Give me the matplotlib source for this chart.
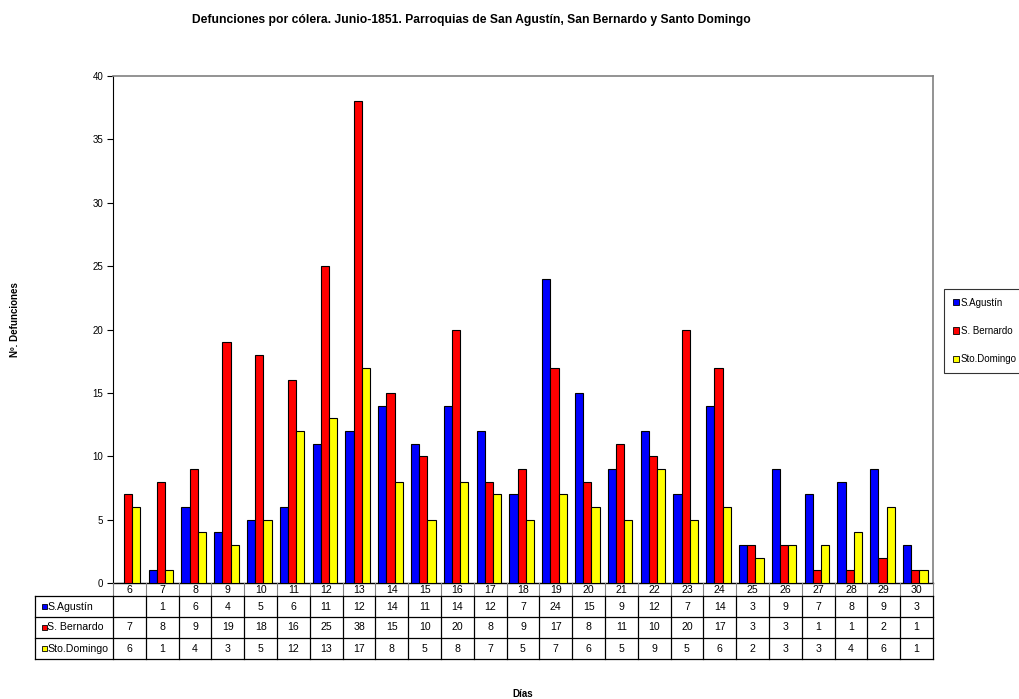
import matplotlib
matplotlib.use("Agg")
import matplotlib.pyplot as plt
import numpy as np
from matplotlib.patches import Rectangle
from matplotlib.lines import Line2D
from matplotlib.transforms import blended_transform_factory

plt.rcParams['font.family'] = ['Liberation Sans', 'DejaVu Sans']

# Defunciones diarias por parroquia, junio de 1851
dias = list(range(6, 31))
san_agustin = [None, 1, 6, 4, 5, 6, 11, 12, 14, 11, 14, 12, 7, 24, 15, 9, 12, 7, 14, 3, 9, 7, 8, 9, 3]
san_bernardo = [7, 8, 9, 19, 18, 16, 25, 38, 15, 10, 20, 8, 9, 17, 8, 11, 10, 20, 17, 3, 3, 1, 1, 2, 1]
sto_domingo = [6, 1, 4, 3, 5, 12, 13, 17, 8, 5, 8, 7, 5, 7, 6, 5, 9, 5, 6, 2, 3, 3, 4, 6, 1]
parroquias = ["S.Agustín", "S. Bernardo", "Sto.Domingo"]
colores = ["#0000FF", "#FF0000", "#FFFF00"]
valores = [san_agustin, san_bernardo, sto_domingo]

W, H = 1019, 699
fig = plt.figure(figsize=(W / 100, H / 100), dpi=100)
ax = fig.add_axes([113 / W, 1 - 583 / H, 820 / W, 507 / H])

x = np.arange(len(dias))
ancho = 0.25
for i, (serie, color) in enumerate(zip(valores, colores)):
    alturas = [v if v is not None else 0 for v in serie]
    ax.bar(x + (i - 1) * ancho - 0.04, alturas, width=ancho, color=color,
           edgecolor='black', linewidth=0.8, zorder=3)

ax.set_xlim(-0.5, len(dias) - 0.5)
ax.set_ylim(0, 40)
ax.set_yticks(range(0, 41, 5))
ax.set_xticks([])
ax.tick_params(axis='y', direction='out', length=4, width=0.8, labelsize=7, pad=3)
for lado in ('top', 'right'):
    ax.spines[lado].set_color('#808080')
    ax.spines[lado].set_linewidth(1.2)
ax.spines['left'].set_color('black')
ax.spines['bottom'].set_color('black')
ax.spines['left'].set_linewidth(0.8)
ax.spines['bottom'].set_linewidth(1.0)

# Tabla de datos bajo el eje
tr = blended_transform_factory(ax.transData, fig.transFigure)
fy = lambda px: 1 - px / H
fx = lambda px: px / W
y_cab, y_filas = 583, [596, 617, 638, 659]
tam_tabla = 7.6

for k in range(len(dias) + 1):
    xc = k - 0.5
    fig.add_artist(Line2D([xc, xc], [fy(y_cab), fy(y_filas[0])], transform=tr,
                          color='#808080', lw=0.8))
    fig.add_artist(Line2D([xc, xc], [fy(y_filas[0]), fy(y_filas[-1])], transform=tr,
                          color='black', lw=0.9))
for yp in y_filas:
    fig.add_artist(Line2D([fx(35), fx(933)], [fy(yp), fy(yp)],
                          transform=fig.transFigure, color='black', lw=0.9))
fig.add_artist(Line2D([fx(35), fx(35)], [fy(y_filas[0]), fy(y_filas[-1])],
                      transform=fig.transFigure, color='black', lw=0.9))

for k, d in enumerate(dias):
    fig.text(k, fy((y_cab + y_filas[0]) / 2 + 0.5), str(d), transform=tr,
             ha='center', va='center', fontsize=tam_tabla)

for j, (nombre, color, serie) in enumerate(zip(parroquias, colores, valores)):
    yc = fy((y_filas[j] + y_filas[j + 1]) / 2)
    fig.add_artist(Rectangle((fx(41.5), yc - 2.5 / H), 5 / W, 5 / H,
                             transform=fig.transFigure, facecolor=color,
                             edgecolor='black', linewidth=0.6))
    fig.text(fx(47), yc, nombre, ha='left', va='center', fontsize=tam_tabla)
    for k, v in enumerate(serie):
        if v is not None:
            fig.text(k, yc, str(v), transform=tr, ha='center', va='center',
                     fontsize=tam_tabla)

# Leyenda
manejadores = [Rectangle((0, 0), 1, 1, facecolor=c, edgecolor='black', linewidth=0.6)
               for c in colores]
leg = fig.legend(manejadores, parroquias, loc='center left',
                 bbox_to_anchor=(fx(944), fy(331)), fontsize=7, frameon=True,
                 fancybox=False, edgecolor='black', handlelength=0.6,
                 handleheight=0.6, handletextpad=0.2, labelspacing=1.9,
                 borderpad=0.9, borderaxespad=0)
leg.get_frame().set_linewidth(0.8)

fig.text(fx(471), fy(20), "Defunciones por cólera. Junio-1851. Parroquias de San Agustín, San Bernardo y Santo Domingo",
         ha='center', va='center', fontsize=8.75, fontweight='bold')
fig.text(fx(15), fy(320), "Nº. Defunciones", rotation=90, ha='center', va='center',
         fontsize=7, fontweight='bold')
fig.text(fx(523), fy(694), "Días", ha='center', va='center', fontsize=7, fontweight='bold')

fig.savefig("out.png", dpi=100)
